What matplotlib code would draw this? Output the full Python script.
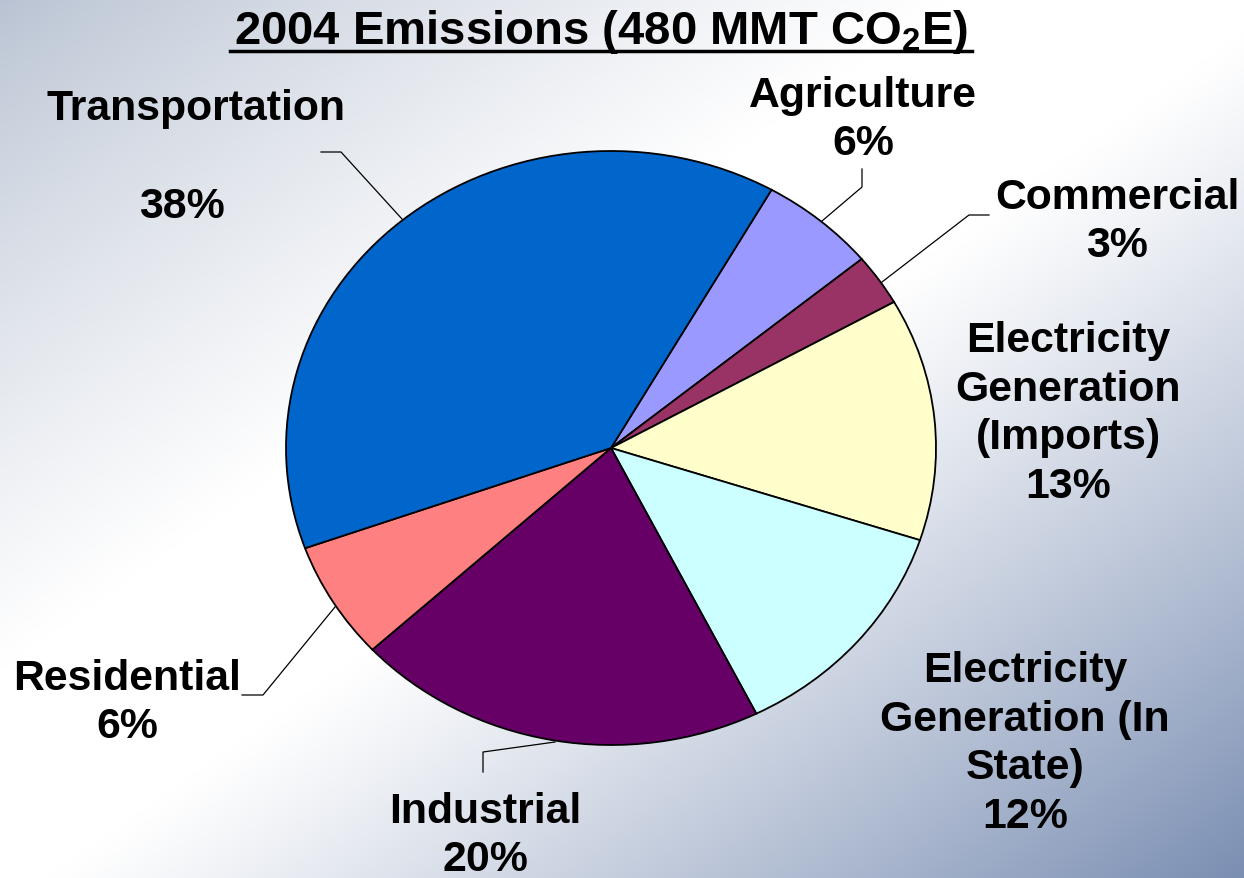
import numpy as np
import matplotlib
matplotlib.use("Agg")
import matplotlib.pyplot as plt

# ---- data ----
categories = ["Agriculture", "Commercial", "Electricity Generation (Imports)",
              "Electricity Generation (In State)", "Industrial", "Residential",
              "Transportation"]
shares = [5.8, 2.8, 13.2, 12.6, 20.5, 6.4, 38.7]
pct_labels = ["6%", "3%", "13%", "12%", "20%", "6%", "38%"]
colors = ["#9999FF", "#993366", "#FFFFCC", "#CCFFFF", "#660066", "#FF8080", "#0066CC"]

W, H = 1244, 879
plt.rcParams['font.family'] = ['Liberation Sans', 'DejaVu Sans']
plt.rcParams['mathtext.fontset'] = 'custom'
plt.rcParams['mathtext.rm'] = 'Liberation Sans:bold'
plt.rcParams['mathtext.bf'] = 'Liberation Sans:bold'
plt.rcParams['mathtext.it'] = 'Liberation Sans:bold'

fig = plt.figure(figsize=(W / 100, H / 100), dpi=100)

# ---- background gradient ----
bg = fig.add_axes([0, 0, 1, 1], zorder=0)
xx, yy = np.meshgrid(np.linspace(0, 1, 400), np.linspace(0, 1, 300))
t = (xx + yy) / 2
c0 = np.array([0xb8, 0xc2, 0xd2]) / 255
cw = np.array([1.0, 1.0, 1.0])
c1 = np.array([0x7b, 0x8f, 0xb3]) / 255
img = np.zeros(t.shape + (3,))
for k in range(3):
    img[..., k] = np.where(t < 0.5,
                           c0[k] + (cw[k] - c0[k]) * np.clip(t / 0.38, 0, 1) ** 0.8,
                           cw[k] + (c1[k] - cw[k]) * np.clip((t - 0.52) / 0.48, 0, 1) ** 1.1)
bg.imshow(img, aspect='auto', extent=(0, 1, 1, 0), interpolation='bilinear')
bg.set_xlim(0, 1); bg.set_ylim(1, 0)
bg.axis('off')

# ---- pie (elliptical) ----
cx, cy, rx, ry = 611, 449, 325, 297
ax = fig.add_axes([(cx - rx) / W, (H - cy - ry) / H, 2 * rx / W, 2 * ry / H], zorder=1)
ax.pie(shares, colors=colors, startangle=60.4, counterclock=False,
       wedgeprops=dict(edgecolor='black', linewidth=1.3))
ax.set_aspect('auto')
ax.set_xlim(-1, 1); ax.set_ylim(-1, 1)
ax.axis('off')

# ---- overlay for text and leader lines ----
ov = fig.add_axes([0, 0, 1, 1], zorder=2)
ov.set_xlim(0, W); ov.set_ylim(H, 0)
ov.axis('off')
ov.patch.set_alpha(0)

fs = 30.8
kw = dict(fontsize=fs, fontweight='bold', ha='center', va='center', linespacing=1.27)

ov.text(196, 109, "Transportation", **kw)
ov.text(182, 207, pct_labels[6], **kw)
ov.text(863, 120, "Agriculture\n" + pct_labels[0], **kw)
ov.text(1117, 222, "Commercial\n" + pct_labels[1], **kw)
ov.text(1068, 414, "Electricity\nGeneration\n(Imports)\n" + pct_labels[2], **kw)
ov.text(1025, 744, "Electricity\nGeneration (In\nState)\n" + pct_labels[3], **kw)
ov.text(485, 836, "Industrial\n" + pct_labels[4], **kw)
ov.text(127, 703, "Residential\n" + pct_labels[5], **kw)

# leader lines
lines = [
    [(321, 153), (341, 153), (402, 220)],
    [(862, 170), (862, 188), (822, 222)],
    [(989, 216), (969, 216), (882, 283)],
    [(242, 696), (263, 696), (335, 608)],
    [(483, 773), (483, 753), (555, 743)],
]
for pts in lines:
    xs, ys = zip(*pts)
    ov.plot(xs, ys, color='black', lw=0.9)

# ---- title ----
ov.text(601, 32, r"2004 Emissions (480 MMT CO$_\mathbf{2}$E)", fontsize=34,
        fontweight='bold', ha='center', va='center')
ov.plot([230, 972], [52, 52], color='black', lw=2.5)

fig.savefig("out.png", dpi=100)
